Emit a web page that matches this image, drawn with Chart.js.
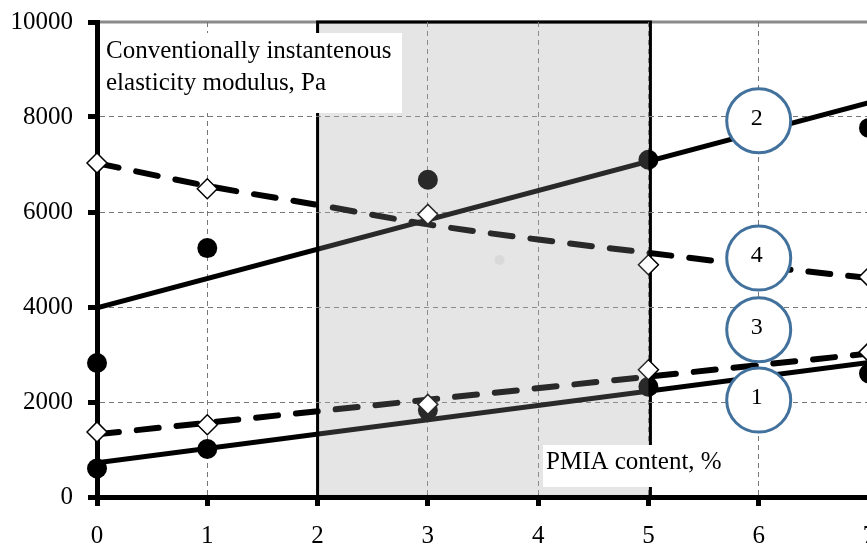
<!DOCTYPE html>
<html>
<head>
<meta charset="utf-8">
<script src="https://cdn.jsdelivr.net/npm/chart.js@4.4.0/dist/chart.umd.min.js"></script>
<style>
    html, body { margin: 0; padding: 0; background: #fff; overflow: hidden; }
</style>
</head>
<body>
<canvas id="chart" width="877" height="547"></canvas>
<script>
// measured PMIA content, %
const xMeasured = [0, 1, 3, 5, 7];

// curve 1..4, measured points
const series1 = [600, 1010, 1830, 2320, 2600];
const series2 = [2820, 5240, 6680, 7100, 7770];
const series3 = [1370, 1520, 1950, 2680, 3050];
const series4 = [7030, 6490, 5950, 4890, 4630];

// trend lines
const trendEnds = [0, 7];
const trend1 = [720, 2830];
const trend2 = [3980, 8300];
const trend3 = [1320, 3020];
const trend4X = [0, 1, 2, 3, 4, 5, 6, 7];
const trend4 = [7030, 6550, 6150, 5740, 5420, 5140, 4860, 4610];

// stray grey marker in the picture
const strayX = [3.65];
const strayY = [4990];

// numbered curve labels
const labelX = 6;
const labelNames = ["2", "4", "3", "1"];
const labelY = [7920, 5030, 3520, 2040];

// shaded band
const shadeFrom = 2;
const shadeTo = 5;

const yTitle = ["Conventionally instantenous", "elasticity modulus, Pa"];
const xTitle = "PMIA content, %";

const FONT = "'Liberation Serif', 'Times New Roman', serif";

function pts(xs, ys) {
    return xs.map((x, i) => ({ x: x, y: ys[i] }));
}

// keep the plot box fixed, labels may hang over
function noOverhang(s) {
    s.paddingTop = 0;
    s.paddingBottom = 0;
    s.paddingLeft = 0;
    s.paddingRight = 0;
}

const decor = {
    id: "decor",
    beforeDraw(chart) {
        const { ctx, chartArea: a, scales: { x } } = chart;
        const x2 = x.getPixelForValue(shadeFrom);
        const x5 = x.getPixelForValue(shadeTo) + 2;
        ctx.save();
        ctx.fillStyle = "#e0e0e0";
        ctx.fillRect(x2, a.top, x5 - x2, a.bottom - a.top);
        ctx.strokeStyle = "#8a8a8a";
        ctx.lineWidth = 3;
        ctx.beginPath();
        ctx.moveTo(a.left, a.top);
        ctx.lineTo(a.right, a.top);
        ctx.stroke();
        ctx.strokeStyle = "#000";
        ctx.beginPath();
        ctx.moveTo(x2, a.bottom);
        ctx.lineTo(x2, a.top);
        ctx.lineTo(x5, a.top);
        ctx.lineTo(x5, a.bottom);
        ctx.stroke();
        ctx.restore();
    },
    afterDatasetsDraw(chart) {
        const { ctx, chartArea: a, scales: { x, y } } = chart;
        const x2 = x.getPixelForValue(shadeFrom);
        const x5 = x.getPixelForValue(shadeTo) + 2;
        ctx.save();
        // band lightens whatever sits on it
        ctx.fillStyle = "rgba(255,255,255,0.16)";
        ctx.fillRect(x2 + 2, a.top + 2, x5 - x2 - 4, a.bottom - a.top - 5);

        // text boxes
        ctx.font = "25px " + FONT;
        ctx.fillStyle = "#fff";
        ctx.fillRect(100, 33, 302, 80);
        ctx.fillRect(543, 445, 180, 42);
        ctx.fillStyle = "#000";
        ctx.textAlign = "left";
        ctx.textBaseline = "alphabetic";
        ctx.fillText(yTitle[0], 106, 58);
        ctx.fillText(yTitle[1], 106, 90);
        ctx.fillText(xTitle, 546, 469);

        // numbers in circles
        ctx.font = "24px " + FONT;
        ctx.textAlign = "center";
        ctx.textBaseline = "middle";
        labelNames.forEach((t, i) => {
            ctx.fillText(t, x.getPixelForValue(labelX) - 2, y.getPixelForValue(labelY[i]) - 2);
        });
        ctx.restore();
    }
};

new Chart(document.getElementById("chart"), {
    type: "scatter",
    data: {
        datasets: [
            {
                data: labelY.map(v => ({ x: labelX, y: v })),
                pointRadius: 32,
                pointBorderWidth: 3,
                pointBorderColor: "#41719c",
                pointBackgroundColor: "#fff",
                clip: false,
            },
            {
                data: pts(xMeasured, series4),
                pointStyle: "rectRot",
                pointRadius: 10,
                pointBorderWidth: 1.5,
                pointBorderColor: "#000",
                pointBackgroundColor: "#fff",
                clip: false,
            },
            {
                data: pts(xMeasured, series3),
                pointStyle: "rectRot",
                pointRadius: 10,
                pointBorderWidth: 1.5,
                pointBorderColor: "#000",
                pointBackgroundColor: "#fff",
                clip: false,
            },
            {
                data: pts(xMeasured, series2),
                pointRadius: 10,
                pointBorderWidth: 0,
                pointBackgroundColor: "#000",
                clip: false,
            },
            {
                data: pts(xMeasured, series1),
                pointRadius: 10,
                pointBorderWidth: 0,
                pointBackgroundColor: "#000",
                clip: false,
            },
            {
                data: pts(strayX, strayY),
                pointRadius: 5,
                pointBorderWidth: 0,
                pointBackgroundColor: "#d2d2d2",
            },
            {
                data: pts(trend4X, trend4),
                showLine: true,
                pointRadius: 0,
                borderColor: "#000",
                borderWidth: 6,
                borderDash: [22, 18],
                borderCapStyle: "round",
                cubicInterpolationMode: "monotone",
            },
            {
                data: pts(trendEnds, trend3),
                showLine: true,
                pointRadius: 0,
                borderColor: "#000",
                borderWidth: 6,
                borderDash: [22, 18],
                borderCapStyle: "round",
            },
            {
                data: pts(trendEnds, trend2),
                showLine: true,
                pointRadius: 0,
                borderColor: "#000",
                borderWidth: 5,
            },
            {
                data: pts(trendEnds, trend1),
                showLine: true,
                pointRadius: 0,
                borderColor: "#000",
                borderWidth: 5,
            },
        ]
    },
    options: {
        responsive: false,
        animation: false,
        layout: { autoPadding: false, padding: { top: 22, right: 8, left: 0, bottom: 0 } },
        plugins: { legend: { display: false }, tooltip: { enabled: false } },
        scales: {
            x: {
                min: 0,
                max: 7,
                afterFit(s) { s.height = 50; noOverhang(s); },
                ticks: {
                    stepSize: 1,
                    padding: 15,
                    color: "#000",
                    font: { family: FONT, size: 25 },
                },
                grid: {
                    color: c => (c.tick && c.tick.value === shadeFrom) ? "rgba(0,0,0,0)" : "#777",
                    lineWidth: 1,
                    tickColor: "#000",
                    tickLength: 9,
                    tickWidth: 5,
                },
                border: { color: "#000", width: 5, dash: [5, 4] },
            },
            y: {
                min: 0,
                max: 10000,
                afterFit(s) { s.width = 97; noOverhang(s); },
                ticks: {
                    stepSize: 2000,
                    padding: 15,
                    color: "#000",
                    font: { family: FONT, size: 25 },
                    callback: v => String(v),
                },
                grid: {
                    color: c => (c.tick && c.tick.value === 10000) ? "rgba(0,0,0,0)" : "#777",
                    lineWidth: 1,
                    tickColor: "#000",
                    tickLength: 9,
                    tickWidth: 5,
                },
                border: { color: "#000", width: 5, dash: [5, 4] },
            }
        }
    },
    plugins: [decor]
});
</script>
</body>
</html>
